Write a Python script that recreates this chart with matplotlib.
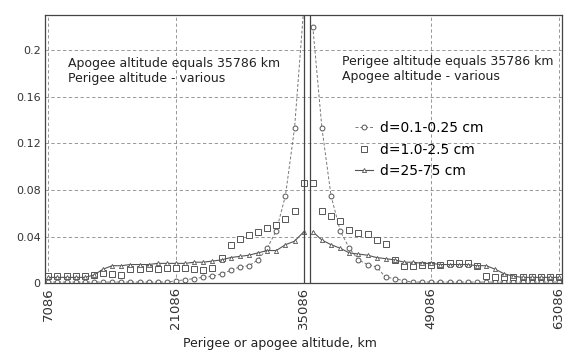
import numpy as np
import matplotlib
matplotlib.use('Agg')
from matplotlib import pyplot as plt

# altitude steps, km (left wing: perigee varies, right wing: apogee varies)
x_left = np.arange(7086, 35087, 1000)
x_right = np.arange(36086, 63087, 1000)
geo_lines = [35086, 35786]

# d=0.1-0.25 cm
small_left = [0.001, 0.001, 0.001, 0.001, 0.001, 0.001, 0.001, 0.001, 0.001, 0.001,
              0.001, 0.001, 0.001, 0.001, 0.002, 0.003, 0.004, 0.005, 0.006, 0.008,
              0.011, 0.014, 0.015, 0.020, 0.030, 0.045, 0.075, 0.133, 0.235]
small_right = [0.220, 0.133, 0.075, 0.045, 0.030, 0.020, 0.016, 0.014, 0.005, 0.004,
               0.002, 0.001, 0.001, 0.001, 0.001, 0.001, 0.001, 0.001, 0.001, 0.001,
               0.001, 0.001, 0.001, 0.001, 0.001, 0.001, 0.001, 0.001]

# d=1.0-2.5 cm
mid_left = [0.006, 0.006, 0.006, 0.006, 0.006, 0.007, 0.009, 0.008, 0.007, 0.012,
            0.012, 0.013, 0.012, 0.013, 0.013, 0.013, 0.012, 0.011, 0.013, 0.022,
            0.033, 0.038, 0.041, 0.044, 0.047, 0.050, 0.055, 0.062, 0.086]
mid_right = [0.086, 0.062, 0.058, 0.053, 0.046, 0.043, 0.042, 0.037, 0.034, 0.020,
             0.015, 0.015, 0.016, 0.016, 0.016, 0.017, 0.017, 0.017, 0.015, 0.006,
             0.005, 0.005, 0.005, 0.005, 0.005, 0.005, 0.005, 0.005]

# d=25-75 cm
big_left = [0.005, 0.005, 0.005, 0.005, 0.005, 0.007, 0.012, 0.015, 0.015, 0.016,
            0.016, 0.016, 0.017, 0.017, 0.017, 0.017, 0.018, 0.018, 0.019, 0.020,
            0.022, 0.023, 0.024, 0.026, 0.028, 0.028, 0.033, 0.036, 0.044]
big_right = [0.044, 0.037, 0.033, 0.030, 0.026, 0.025, 0.024, 0.022, 0.021, 0.020,
             0.018, 0.018, 0.017, 0.017, 0.016, 0.016, 0.016, 0.016, 0.015, 0.015,
             0.012, 0.008, 0.006, 0.005, 0.005, 0.005, 0.005, 0.005]

xticks = [7086, 21086, 35086, 49086, 63086]
yticks = [0, 0.04, 0.08, 0.12, 0.16, 0.2]
ytick_labels = ['0', '0.04', '0.08', '0.12', '0.16', '0.2']

c = '#555555'
fig = plt.figure(figsize=(5.67, 3.54), dpi=100)
ax = fig.add_axes([0.079, 0.2, 0.912, 0.758])

st_small = dict(color='#777777', ls=(0, (3, 2)), lw=0.7, marker='o', ms=3.5,
                mfc='white', mec=c, mew=0.7)
st_mid = dict(color=c, ls='none', marker='s', ms=4, mfc='white', mec=c, mew=0.7)
st_big = dict(color=c, ls='-', lw=0.8, marker='^', ms=3, mfc='white', mec=c, mew=0.6)

ax.plot(x_left, small_left, label='d=0.1-0.25 cm', **st_small)
ax.plot(x_right, small_right, **st_small)
ax.plot(x_left, mid_left, label='d=1.0-2.5 cm', **st_mid)
ax.plot(x_right, mid_right, **st_mid)
ax.plot(x_left, big_left, label='d=25-75 cm', **st_big)
ax.plot(x_right, big_right, **st_big)

for g in geo_lines:
    ax.axvline(g, color='#444444', lw=0.9)

ax.set_xlim(6700, 63400)
ax.set_ylim(0, 0.23)
ax.set_xticks(xticks)
ax.set_xticklabels([str(v) for v in xticks], rotation=90, fontsize=9.5)
ax.set_yticks(yticks)
ax.set_yticklabels(ytick_labels, fontsize=8)
ax.tick_params(length=0, pad=3, colors='#333333')
ax.grid(True, ls=(0, (4, 3)), color='#888888', lw=0.6)
for s in ax.spines.values():
    s.set_color('#444444')
    s.set_linewidth(0.9)

ax.text(9200, 0.194, 'Apogee altitude equals 35786 km\nPerigee altitude - various',
        fontsize=9, color='#222222', va='top', linespacing=1.25)
ax.text(39300, 0.196, 'Perigee altitude equals 35786 km\nApogee altitude - various',
        fontsize=9, color='#222222', va='top', linespacing=1.25)

ax.legend(loc='upper left', bbox_to_anchor=(0.595, 0.615), frameon=False, fontsize=10,
          handlelength=1.3, labelspacing=0.55, handletextpad=0.5,
          borderpad=0.2, borderaxespad=0)

ax.set_xlabel('Perigee or apogee altitude, km', fontsize=9, color='#222222')
ax.xaxis.set_label_coords(0.455, -0.2)

plt.savefig('out.png', dpi=100)
